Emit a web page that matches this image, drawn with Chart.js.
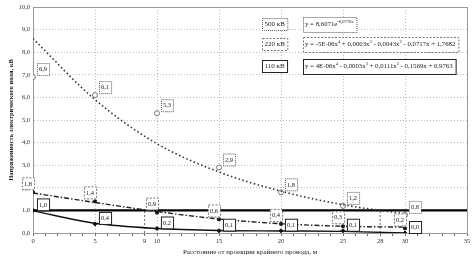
<!DOCTYPE html>
<html>
<head>
<meta charset="utf-8">
<script src="https://cdn.jsdelivr.net/npm/chart.js@4/dist/chart.umd.min.js"></script>
<style>
html, body { margin: 0; padding: 0; background: #fff; }
#wrap { width: 475px; height: 262px; }
</style>
</head>
<body>
<div id="wrap"><canvas id="chart"></canvas></div>
<script>
// расстояния и измеренные значения, кВ/м
const distances = [0, 5, 10, 15, 20, 25, 30];
const kv500 = [6.9, 6.1, 5.3, 2.9, 1.8, 1.2, 0.8];
const kv220 = [1.8, 1.4, 0.9, 0.6, 0.4, 0.3, 0.2];
const kv110 = [1.0, 0.4, 0.2, 0.1, 0.1, 0.1, 0.0];
// линии тренда
const trend500 = [8.6, 5.9, 3.95, 2.7, 1.85, 1.25, 0.85];
const trend220 = [1.77, 1.35, 0.95, 0.62, 0.41, 0.3, 0.26];
const trend110 = [0.98, 0.43, 0.2, 0.11, 0.09, 0.07, 0.0];
const limitLevel = 1.0;
const crossings = [9, 28];
const xTickLabels = [0, 5, 9, 10, 15, 20, 25, 28, 30, 35];
const legendNames = ['500 кВ', '220 кВ', '110 кВ'];
const equations = [
    [['y = 8,6071e', 0], ['-0,0770x', 1]],
    [['y = -5E-06x', 0], ['4', 1], [' + 0,0003x', 0], ['3', 1], [' - 0,0043x', 0], ['2', 1], [' - 0,0717x + 1,7682', 0]],
    [['y = 4E-06x', 0], ['4', 1], [' - 0,0003x', 0], ['3', 1], [' + 0,0111x', 0], ['2', 1], [' - 0,1569x + 0,9763', 0]]
];

const SERIF = '"Liberation Serif", "DejaVu Serif", serif';
const fmt = v => v.toFixed(1).replace('.', ',');
const pts = arr => distances.map((x, i) => ({ x: x, y: arr[i] }));

const boxStyles = [
    { dash: [1, 1], color: '#555' },
    { dash: [2, 1.5], color: '#777' },
    { dash: [], color: '#222' }
];

function box(ctx, x, y, w, h, st) {
    ctx.save();
    ctx.setLineDash(st.dash);
    ctx.strokeStyle = st.color;
    ctx.lineWidth = 1;
    ctx.fillStyle = '#fff';
    ctx.fillRect(x, y, w, h);
    ctx.strokeRect(x + 0.5, y + 0.5, w, h);
    ctx.restore();
}

const labelPlugin = {
    id: 'labels',
    afterDatasetsDraw(chart) {
        const ctx = chart.ctx;
        const offsets = { 0: [10, -8], 1: [-5, -9], 2: [10, -6] };
        chart.data.datasets.forEach((ds, di) => {
            if (ds.seriesIdx === undefined) return;
            const meta = chart.getDatasetMeta(di);
            const off = offsets[ds.seriesIdx];
            ctx.save();
            ctx.font = '6.5px ' + SERIF;
            ctx.textAlign = 'center';
            ctx.textBaseline = 'middle';
            meta.data.forEach((el, i) => {
                const txt = fmt(ds.data[i].y);
                const cx = el.x + off[0], cy = el.y + off[1];
                const w = ctx.measureText(txt).width + 4;
                box(ctx, cx - w / 2, cy - 6, w, 12, boxStyles[ds.seriesIdx]);
                ctx.fillStyle = '#222';
                ctx.fillText(txt, cx, cy + 0.5);
            });
            ctx.restore();
        });

        // легенда и уравнения
        const rows = [24, 44, 66];
        ctx.save();
        ctx.textBaseline = 'middle';
        rows.forEach((ry, i) => {
            ctx.font = '7px ' + SERIF;
            const lw = ctx.measureText(legendNames[i]).width + 5;
            box(ctx, 262, ry - 6, lw, 12, boxStyles[i]);
            ctx.fillStyle = '#222';
            ctx.fillText(legendNames[i], 264.5, ry + 0.5);

            let total = 0;
            equations[i].forEach(s => {
                ctx.font = (s[1] ? '4.5px ' : '6.8px ') + SERIF;
                total += ctx.measureText(s[0]).width;
            });
            box(ctx, 303, ry - 7, total + 5, 15, boxStyles[i]);
            let x = 305;
            ctx.fillStyle = '#222';
            equations[i].forEach(s => {
                ctx.font = (s[1] ? '4.5px ' : '6.8px ') + SERIF;
                ctx.fillText(s[0], x, s[1] ? ry - 2.5 : ry + 0.5);
                x += ctx.measureText(s[0]).width;
            });
        });
        ctx.restore();
    },
    beforeDatasetsDraw(chart) {
        const { ctx, chartArea: a } = chart;
        ctx.save();
        ctx.strokeStyle = '#999';
        ctx.lineWidth = 1;
        ctx.strokeRect(a.left + 0.5, a.top + 0.5, a.right - a.left, a.bottom - a.top);
        ctx.restore();
    }
};

const datasets = [
    {
        label: 'тренд 500', data: pts(trend500), borderColor: '#333', borderWidth: 1.6,
        borderDash: [1.5, 2.5], pointRadius: 0, cubicInterpolationMode: 'monotone'
    },
    {
        label: 'тренд 220', data: pts(trend220), borderColor: '#222', borderWidth: 1.4,
        borderDash: [5, 2, 1.5, 2], pointRadius: 0, cubicInterpolationMode: 'monotone'
    },
    {
        label: 'тренд 110', data: pts(trend110), borderColor: '#111', borderWidth: 1.4,
        pointRadius: 0, cubicInterpolationMode: 'monotone'
    },
    {
        label: 'предел', data: [{ x: 0, y: limitLevel }, { x: 35, y: limitLevel }],
        borderColor: '#000', borderWidth: 2.2, pointRadius: 0
    }
];
crossings.forEach(c => datasets.push({
    label: 'пересечение', data: [{ x: c, y: 0 }, { x: c, y: limitLevel }],
    borderColor: '#444', borderWidth: 0.8, borderDash: [2, 2], pointRadius: 0
}));
datasets.push(
    {
        label: '500 кВ', seriesIdx: 0, data: pts(kv500), showLine: false,
        pointStyle: 'circle', pointRadius: 2.5, pointBorderColor: '#555', pointBackgroundColor: '#fff', pointBorderWidth: 0.8
    },
    {
        label: '220 кВ', seriesIdx: 1, data: pts(kv220), showLine: false,
        pointStyle: 'rect', pointRadius: 1.8, pointBorderColor: '#111', pointBackgroundColor: '#111'
    },
    {
        label: '110 кВ', seriesIdx: 2, data: pts(kv110), showLine: false,
        pointStyle: 'rectRot', pointRadius: 2, pointBorderColor: '#111', pointBackgroundColor: '#111'
    }
);

new Chart(document.getElementById('chart'), {
    type: 'line',
    data: { datasets: datasets },
    plugins: [labelPlugin],
    options: {
        responsive: true,
        maintainAspectRatio: false,
        animation: false,
        layout: { padding: { top: 7, right: 8, left: 0, bottom: 0 } },
        plugins: { legend: { display: false }, tooltip: { enabled: false } },
        scales: {
            x: {
                type: 'linear', min: 0, max: 35,
                afterBuildTicks: s => { s.ticks = Array.from({ length: 36 }, (_, i) => ({ value: i })); },
                afterFit: s => { s.height = 29; },
                ticks: {
                    autoSkip: false, maxRotation: 0, padding: 1,
                    color: '#333', font: { family: SERIF, size: 6.5 },
                    callback: v => xTickLabels.includes(v) ? String(v) : ''
                },
                grid: {
                    color: c => (c.tick && c.tick.value % 5 === 0 && c.tick.value > 0 && c.tick.value < 35) ? '#aaa' : 'transparent',
                    tickColor: '#444', tickLength: 3, drawOnChartArea: true,
                    lineWidth: 0.8
                },
                border: { color: '#222', width: 1, dash: [1, 2] },
                title: {
                    display: true, text: 'Расстояние от проекции крайнего провода, м',
                    color: '#222', font: { family: SERIF, size: 7 }, padding: { top: 1, bottom: 6 }
                }
            },
            y: {
                min: 0, max: 10,
                afterFit: s => { s.width = 33; },
                ticks: {
                    stepSize: 1, color: '#333', padding: 3,
                    font: { family: SERIF, size: 6.5 },
                    callback: v => fmt(v)
                },
                grid: {
                    color: c => (c.tick && c.tick.value > 0 && c.tick.value < 10) ? '#aaa' : 'transparent',
                    lineWidth: 0.8, tickLength: 0
                },
                border: { color: '#222', width: 1, dash: [1, 2] },
                title: {
                    display: true, text: 'Напряженность электрического поля, кВ',
                    color: '#222', font: { family: SERIF, size: 6.5, weight: 'bold' }, padding: { top: 7, bottom: 0 }
                }
            }
        }
    }
});
</script>
</body>
</html>
